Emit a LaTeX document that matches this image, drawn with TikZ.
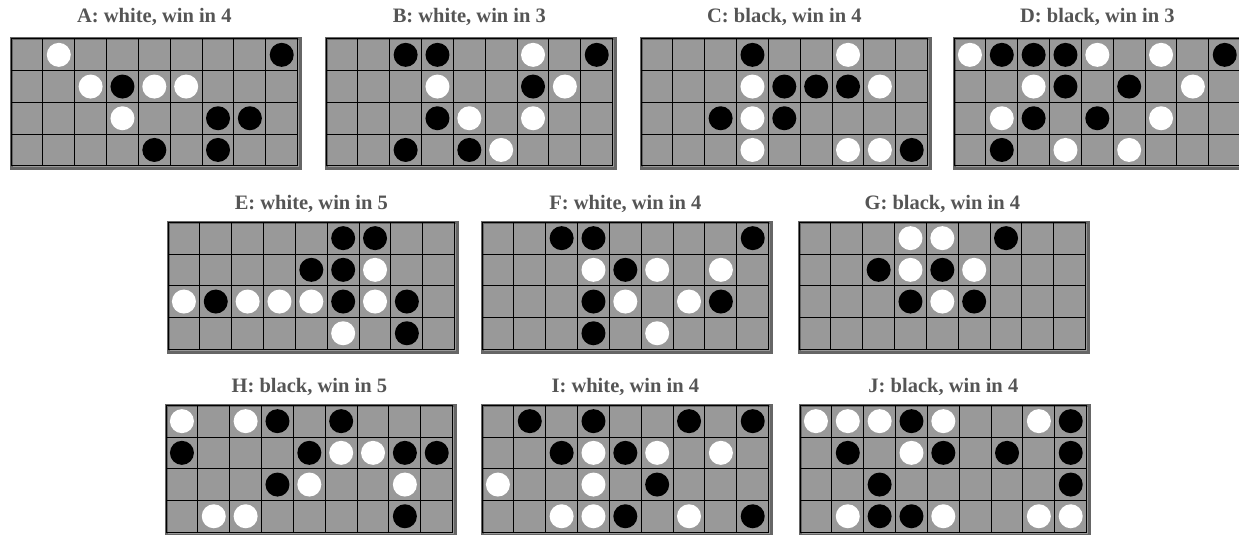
\documentclass[tikz,border=0pt]{standalone}
\usepackage{fontspec}
\setmainfont{Liberation Serif}
\definecolor{boardgray}{RGB}{153,153,153}
\definecolor{framegray}{RGB}{102,102,102}
\definecolor{titlegray}{RGB}{85,85,85}
\tikzset{
  boardbox/.style={fill=boardgray, draw=framegray, line width=3pt, inner sep=0pt,
    minimum width=289.7pt, minimum height=129.8pt, anchor=north west},
  gridline/.style={draw=black, line width=1pt},
  wstone/.style={circle, fill=white, inner sep=0pt, minimum size=24pt},
  bstone/.style={circle, fill=black, inner sep=0pt, minimum size=24pt},
  boardtitle/.style={anchor=base, inner sep=0pt, text=titlegray,
    font=\fontsize{20.5}{24}\selectfont\bfseries}
}
% #1 name, #2 left, #3 top, #4 title baseline, #5 title, #6 white stones, #7 black stones
\newcommand\goboard[7]{%
  \node[boardtitle] (#1-title) at (#2+146.35,#4) {#5};
  \node[boardbox] (#1) at (#2+1.5,#3+1.5) {};
  \foreach \k in {0,...,9}
    \draw[gridline] (#2+3+\k*31.85,#3+3) -- (#2+3+\k*31.85,#3+129.8);
  \foreach \k in {0,...,4}
    \draw[gridline] (#2+3,#3+3+\k*31.7) -- (#2+289.7,#3+3+\k*31.7);
  \foreach \c/\r in {#6}
    \node[wstone] (#1-w-\c-\r) at (#2+3+\c*31.85-15.925,#3+3+\r*31.7-15.85) {};
  \foreach \c/\r in {#7}
    \node[bstone] (#1-b-\c-\r) at (#2+3+\c*31.85-15.925,#3+3+\r*31.7-15.85) {};
}
\begin{document}
\begin{tikzpicture}[x=1pt,y=-1pt]
\clip (0,0) rectangle (1239,535);
\fill[white] (0,0) rectangle (1239,535);
% Row 1
\goboard{A}{8}{36}{22.5}{A: white, win in 4}
  {2/1,3/2,5/2,6/2,4/3}
  {9/1,4/2,7/3,8/3,5/4,7/4}
\goboard{B}{323}{36}{22.5}{B: white, win in 3}
  {7/1,4/2,8/2,5/3,7/3,6/4}
  {3/1,4/1,9/1,7/2,4/3,3/4,5/4}
\goboard{C}{638}{36}{22.5}{C: black, win in 4}
  {7/1,4/2,8/2,4/3,4/4,7/4,8/4}
  {4/1,5/2,6/2,7/2,3/3,5/3,9/4}
\goboard{D}{951}{36}{22.5}{D: black, win in 3}
  {1/1,5/1,7/1,3/2,8/2,2/3,7/3,4/4,6/4}
  {2/1,3/1,4/1,9/1,4/2,6/2,3/3,5/3,2/4}
% Row 2
\goboard{E}{165}{219.3}{209.5}{E: white, win in 5}
  {7/2,1/3,3/3,4/3,5/3,7/3,6/4}
  {6/1,7/1,5/2,6/2,2/3,6/3,8/3,8/4}
\goboard{F}{479}{219.3}{209.5}{F: white, win in 4}
  {4/2,6/2,8/2,5/3,7/3,6/4}
  {3/1,4/1,9/1,5/2,4/3,8/3,4/4}
\goboard{G}{796}{219.3}{209.5}{G: black, win in 4}
  {4/1,5/1,4/2,6/2,5/3}
  {7/1,3/2,5/2,4/3,6/3}
% Row 3
\goboard{H}{163}{402.3}{392}{H: black, win in 5}
  {1/1,3/1,6/2,7/2,5/3,8/3,2/4,3/4}
  {4/1,6/1,1/2,5/2,8/2,9/2,4/3,8/4}
\goboard{I}{479}{402.3}{392}{I: white, win in 4}
  {4/2,6/2,8/2,1/3,4/3,3/4,4/4,7/4}
  {2/1,4/1,7/1,9/1,3/2,5/2,6/3,5/4,9/4}
\goboard{J}{797}{402.3}{392}{J: black, win in 4}
  {1/1,2/1,3/1,5/1,8/1,4/2,2/4,5/4,8/4,9/4}
  {4/1,9/1,2/2,5/2,7/2,9/2,3/3,9/3,3/4,4/4}
\end{tikzpicture}
\end{document}
